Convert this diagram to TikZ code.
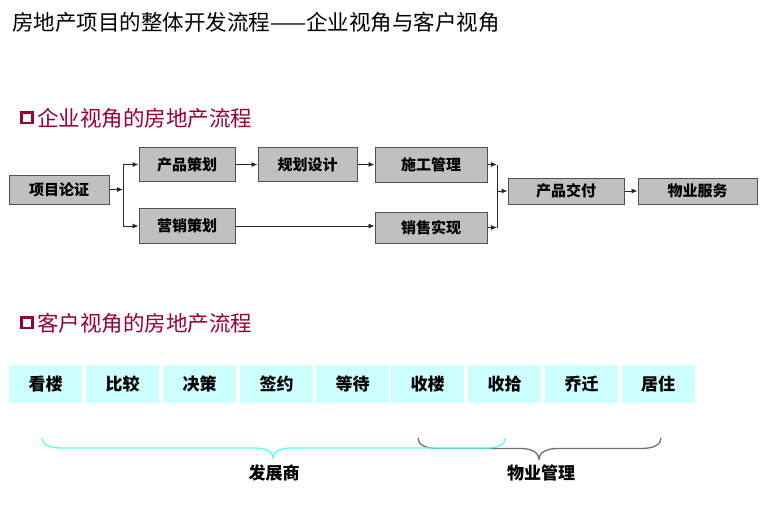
\documentclass[tikz,border=0pt]{standalone}
\usepackage{fontspec}
\setmainfont{Noto Sans CJK SC}
\usetikzlibrary{arrows.meta}
\definecolor{hdred}{HTML}{990033}
\definecolor{boxgray}{HTML}{C0C0C0}
\definecolor{boxline}{HTML}{505050}
\definecolor{custcyan}{HTML}{CCFFFF}
\definecolor{bracecyan}{HTML}{55FFFF}
\definecolor{bracegray}{HTML}{707070}
\tikzset{
  flowbox/.style={draw=boxline, line width=1pt, fill=boxgray, inner sep=0pt,
    font=\fontsize{15}{17}\selectfont\bfseries},
  custbox/.style={fill=custcyan, inner sep=0pt, minimum width=73pt, minimum height=38pt,
    font=\fontsize{17}{19}\selectfont\bfseries},
  conn/.style={draw=black!85, line width=0.9pt},
  arr/.style={conn, -{Latex[length=6pt,width=5pt]}},
  hdtext/.style={anchor=west, inner sep=0pt, text=hdred, font=\fontsize{21.5}{24}\selectfont},
  bracelbl/.style={inner sep=0pt, font=\fontsize{17}{19}\selectfont\bfseries}
}
\begin{document}
\begin{tikzpicture}[x=1pt,y=-1pt]
\useasboundingbox (0,0) rectangle (760,523);
% title
\node[anchor=west, inner sep=0pt, font=\fontsize{21.5}{24}\selectfont] (title) at (12,22) {房地产项目的整体开发流程——企业视角与客户视角};
% section 1
\draw[hdred, line width=2.6pt] (21.5,112.5) rectangle (32.5,123);
\node[hdtext] (hd1) at (37,118) {企业视角的房地产流程};
% flow boxes
\node[flowbox, minimum width=100pt, minimum height=29pt] (xmlz) at (59,189.5) {项目论证};
\node[flowbox, minimum width=96pt, minimum height=34pt] (cpch) at (187,164.5) {产品策划};
\node[flowbox, minimum width=99pt, minimum height=34pt] (ghsj) at (307.5,164.5) {规划设计};
\node[flowbox, minimum width=112pt, minimum height=35pt] (sggl) at (431,164.5) {施工管理};
\node[flowbox, minimum width=96pt, minimum height=35pt] (yxch) at (187,226) {营销策划};
\node[flowbox, minimum width=112pt, minimum height=31pt] (xssx) at (431,227.5) {销售实现};
\node[flowbox, minimum width=116pt, minimum height=26pt] (cpjf) at (566,191) {产品交付};
\node[flowbox, minimum width=119pt, minimum height=26pt] (wyfw) at (697.5,191) {物业服务};
% connectors
\coordinate (j1) at (123,189.5);
\coordinate (j1t) at (123,164.5);
\coordinate (j1b) at (123,226);
\draw[arr] (xmlz.east) -- (j1);
\draw[conn] (j1t) -- (j1b);
\draw[arr] (j1t) -- (cpch.west);
\draw[arr] (j1b) -- (yxch.west);
\draw[arr] (cpch.east) -- (ghsj.west);
\draw[arr] (ghsj.east) -- (sggl.west);
\draw[arr] (yxch.east) -- (yxch.east -| xssx.west);
\coordinate (j2t) at (497,164.5);
\coordinate (j2b) at (497,227.5);
\coordinate (j2) at (497,191);
\draw[arr] (sggl.east) -- (j2t);
\draw[arr] (xssx.east) -- (j2b);
\draw[conn] (j2t) -- (j2b);
\draw[arr] (j2) -- (cpjf.west);
\draw[arr] (cpjf.east) -- (wyfw.west);
% section 2
\draw[hdred, line width=2.6pt] (21.5,317.5) rectangle (32.5,328);
\node[hdtext] (hd2) at (37,323) {客户视角的房地产流程};
% customer boxes
\node[custbox] (c1) at (45.5,384) {看楼};
\node[custbox] (c2) at (122.5,384) {比较};
\node[custbox] (c3) at (199.5,384) {决策};
\node[custbox] (c4) at (276.5,384) {签约};
\node[custbox] (c5) at (352.5,384) {等待};
\node[custbox] (c6) at (427.5,384) {收楼};
\node[custbox] (c7) at (504.5,384) {收拾};
\node[custbox] (c8) at (581.5,384) {乔迁};
\node[custbox] (c9) at (658,384) {居住};
% braces
\draw[bracegray, line width=1.3pt] (418,438) .. controls (418,444) and (424,448.5) .. (438,448.5)
  -- (521,448.5) .. controls (532,448.5) and (539,453) .. (539,459)
  .. controls (539,453) and (546,448.5) .. (557,448.5)
  -- (641,448.5) .. controls (655,448.5) and (661,444) .. (661,438);
\draw[bracecyan, line width=1.3pt] (42,438) .. controls (42,444) and (48,448) .. (62,448)
  -- (255,448) .. controls (266,448) and (273,452) .. (273,458)
  .. controls (273,452) and (280,448) .. (291,448)
  -- (486,448) .. controls (500,448) and (505,444) .. (505,438);
\node[bracelbl] (dev) at (274,473) {发展商};
\node[bracelbl] (pm) at (541,473) {物业管理};
\end{tikzpicture}
\end{document}
